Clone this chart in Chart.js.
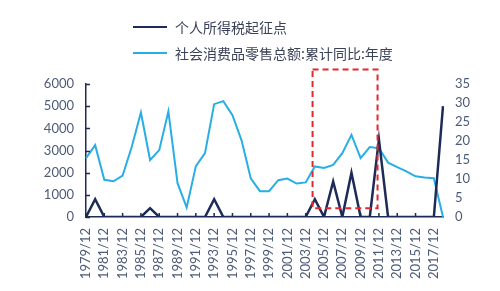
<!DOCTYPE html>
<html>
<head>
<meta charset="utf-8">
<script src="https://cdn.jsdelivr.net/npm/chart.js@4"></script>
<style>
    body { margin: 0; background: #fff; }
    .wrap { position: relative; width: 500px; height: 291px; }
    .legend { position: absolute; left: 133px; top: 14px; font-family: 'Noto Sans CJK SC', sans-serif; font-size: 14px; color: #3a4257; }
    .legend-row { display: flex; align-items: center; height: 26px; }
    .legend-line { width: 34px; height: 0; margin-right: 8px; }
</style>
</head>
<body>
<div class="wrap">
    <canvas id="taxChart" width="500" height="291"></canvas>
    <div class="legend">
        <div class="legend-row"><span class="legend-line" style="border-top: 2.5px solid #1c2b57;"></span>个人所得税起征点</div>
        <div class="legend-row"><span class="legend-line" style="border-top: 2.5px solid #29aee4;"></span>社会消费品零售总额:累计同比:年度</div>
    </div>
</div>
<script>
const years = [];
for (let y = 1979; y <= 2018; y++) years.push(y + '/12');

const taxThreshold = [0, 800, 0, 0, 0, 0, 0, 400, 0, 0,
    0, 0, 0, 0, 800, 0, 0, 0, 0, 0,
    0, 0, 0, 0, 0, 800, 0, 1600, 0, 2000,
    0, 0, 3500, 0, 0, 0, 0, 0, 0, 5000];

const retailGrowth = [15.5, 18.9, 9.8, 9.4, 10.9, 18.5, 27.5, 15.0, 17.6, 27.8,
    8.9, 2.5, 13.4, 16.8, 29.7, 30.5, 26.8, 20.1, 10.2, 6.8,
    6.8, 9.7, 10.1, 8.8, 9.1, 13.3, 12.9, 13.7, 16.8, 21.6,
    15.5, 18.4, 18.1, 14.3, 13.1, 12.0, 10.7, 10.4, 10.2, 0];

const leftTicks = [0, 1000, 2000, 3000, 4000, 5000, 6000];
const rightTicks = [0, 5, 10, 15, 20, 25, 30, 35];

// highlighted box, in x index / right axis units
const boxFrom = 24.75;
const boxTo = 31.85;
const boxLow = 2.3;
const boxHigh = 38.8;

const navy = '#1c2b57';
const tickColor = '#4d5b78';

const extrasPlugin = {
    id: 'extras',
    afterDraw(chart) {
        const ctx = chart.ctx;
        const x = chart.scales.x;
        const y = chart.scales.y;
        const y1 = chart.scales.y1;
        ctx.save();
        // inner tick marks
        ctx.strokeStyle = navy;
        ctx.lineWidth = 1.5;
        ctx.beginPath();
        leftTicks.forEach(v => {
            const py = Math.round(y.getPixelForValue(v)) + 0.5;
            ctx.moveTo(x.left, py);
            ctx.lineTo(x.left + 4, py);
        });
        years.forEach((lbl, i) => {
            if (i % 2 !== 0) return;
            const px = x.getPixelForValue(i);
            ctx.moveTo(px, y.bottom);
            ctx.lineTo(px, y.bottom - 4);
        });
        ctx.stroke();
        // red dashed box
        const left = x.getPixelForValue(boxFrom);
        const right = x.getPixelForValue(boxTo);
        const top = y1.getPixelForValue(boxHigh);
        const bottom = y1.getPixelForValue(boxLow);
        ctx.strokeStyle = '#e5262d';
        ctx.lineWidth = 2;
        ctx.setLineDash([6, 4]);
        ctx.strokeRect(left, top, right - left, bottom - top);
        ctx.restore();
    }
};

new Chart(document.getElementById('taxChart'), {
    type: 'line',
    data: {
        labels: years,
        datasets: [{
            label: '个人所得税起征点',
            data: taxThreshold,
            borderColor: navy,
            borderWidth: 2.5,
            pointRadius: 0,
            tension: 0,
            yAxisID: 'y',
            order: 1
        }, {
            label: '社会消费品零售总额:累计同比:年度',
            data: retailGrowth,
            borderColor: '#29aee4',
            borderWidth: 2,
            pointRadius: 0,
            tension: 0,
            yAxisID: 'y1',
            order: 2
        }]
    },
    options: {
        responsive: false,
        animation: false,
        layout: { padding: { top: 84, left: 0, right: 0, bottom: 0 } },
        plugins: {
            legend: { display: false },
            tooltip: { enabled: false }
        },
        scales: {
            x: {
                offset: false,
                grid: { display: false, drawTicks: false },
                border: { color: navy, width: 1.5 },
                ticks: {
                    autoSkip: false,
                    maxRotation: 90,
                    minRotation: 90,
                    padding: 11,
                    color: tickColor,
                    font: { family: 'Lato', size: 13 },
                    callback: function (val, index) {
                        return index % 2 === 0 ? this.getLabelForValue(val) : '';
                    }
                },
                afterFit: s => { s.height = 74; }
            },
            y: {
                position: 'left',
                min: 0,
                max: 6000,
                grid: { display: false, drawTicks: false },
                border: { color: navy, width: 1.5 },
                ticks: {
                    stepSize: 1000,
                    padding: 12,
                    color: tickColor,
                    font: { family: 'Lato', size: 13 },
                    callback: v => String(v)
                },
                afterFit: s => { s.width = 86; }
            },
            y1: {
                position: 'right',
                min: 0,
                max: 35,
                grid: { display: false, drawTicks: false },
                border: { display: false },
                ticks: {
                    stepSize: 5,
                    padding: 12,
                    color: tickColor,
                    font: { family: 'Lato', size: 13 }
                },
                afterFit: s => { s.width = 57; }
            }
        }
    },
    plugins: [extrasPlugin]
});
</script>
</body>
</html>
